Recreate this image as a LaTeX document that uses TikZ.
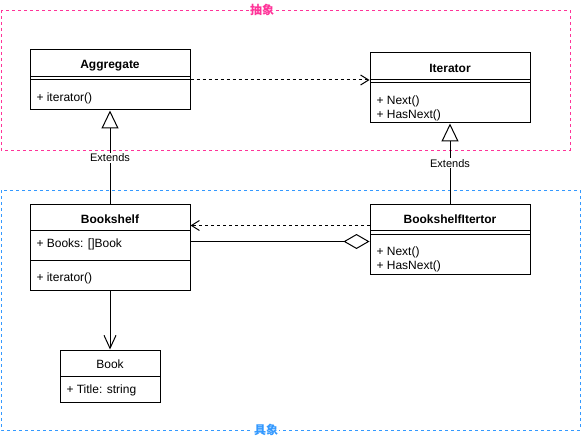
\documentclass[tikz,border=0pt]{standalone}
\usepackage{fontspec}
\setmainfont{Liberation Sans}
\newfontfamily\cjk{Noto Sans CJK SC}
\usetikzlibrary{arrows.meta,calc}
\definecolor{pinkc}{HTML}{FF3399}
\definecolor{bluec}{HTML}{3399FF}
\begin{document}
\begin{tikzpicture}[x=1pt,y=-1pt,line width=1pt,
  classbox/.style={draw=black,fill=white,rectangle,inner sep=0pt},
  ttl/.style={font=\fontsize{12}{14}\selectfont\bfseries,inner sep=0pt,anchor=base},
  ttlplain/.style={font=\fontsize{12}{14}\selectfont,inner sep=0pt,anchor=base},
  attr/.style={font=\fontsize{12}{14}\selectfont,anchor=base west,inner sep=0pt},
  lbl/.style={font=\fontsize{11}{13}\selectfont,fill=white,inner sep=1pt,anchor=base},
  grp/.style={dash pattern=on 3pt off 3pt,line width=0.9pt},
  grplbl/.style={font=\fontsize{12}{14}\selectfont\cjk\bfseries,fill=white,inner sep=1pt},
  inherit/.style={-{Triangle[fill=white,length=18pt,width=17pt]}},
  depend/.style={dash pattern=on 3pt off 3pt,-{Straight Barb[length=8pt,width=10pt]}},
  aggr/.style={-{Diamond[fill=white,length=26pt,width=15pt]}},
  assoc/.style={-{Straight Barb[length=13pt,width=12pt]}}
]
\useasboundingbox (0,0) rectangle (581,441);
% groups
\draw[grp,draw=pinkc] (1,10) rectangle (570,150);
\node[grplbl,text=pinkc] (gA) at (262,10) {抽象};
\draw[grp,draw=bluec] (1,190) rectangle (580,430);
\node[grplbl,text=bluec] (gB) at (266,430) {具象};

% Aggregate
\node[classbox,minimum width=160pt,minimum height=60pt] (agg) at (110,80) {};
\draw (30,76.7) -- (190,76.7);
\draw (30,80) -- (190,80);
\node[ttl] (aggT) at (110,69) {Aggregate};
\node[attr] (aggM) at (36,102) {+ iterator()};

% Iterator
\node[classbox,minimum width=160pt,minimum height=70pt] (it) at (450,88) {};
\draw (370,79.3) -- (530,79.3);
\draw (370,83) -- (530,83);
\node[ttl] (itT) at (450,72.7) {Iterator};
\node[attr] (itM1) at (376,104.3) {+ Next()};
\node[attr] (itM2) at (376,119) {+ HasNext()};

% Bookshelf
\node[classbox,minimum width=160pt,minimum height=86pt] (bs) at (110,247) {};
\draw (30,230.7) -- (190,230.7);
\draw (30,260) -- (190,260);
\node[ttl] (bsT) at (110,223.3) {Bookshelf};
\node[attr] (bsA) at (36,247.7) {+ Books: []Book};
\node[attr] (bsM) at (36,281.7) {+ iterator()};

% BookshelfItertor
\node[classbox,minimum width=160pt,minimum height=70pt] (bsi) at (450,239) {};
\draw (370,230.7) -- (530,230.7);
\draw (370,234) -- (530,234);
\node[ttl] (bsiT) at (450,223.3) {BookshelfItertor};
\node[attr] (bsiM1) at (376,255.3) {+ Next()};
\node[attr] (bsiM2) at (376,269.3) {+ HasNext()};

% Book
\node[classbox,minimum width=100pt,minimum height=52pt] (book) at (110,376) {};
\draw (60,376.7) -- (160,376.7);
\node[ttlplain] (bookT) at (110,368.3) {Book};
\node[attr] (bookA) at (66,393.7) {+ Title: string};

% connectors
\draw[depend] (agg.east) -- (it.west |- agg.east);
\draw[inherit] (bs.north) -- (agg.south);
\node[lbl] (e1) at (110,161.7) {Extends};
\draw[inherit] (bsi.north) -- (it.south);
\node[lbl] (e2) at (450,167.3) {Extends};
\coordinate (d1) at ($(bsi.north west)+(0,22)$);
\draw[depend] (d1) -- (bs.east |- d1);
\coordinate (a1) at ($(bs.north east)+(0,38)$);
\draw[aggr] (a1) -- (bsi.west |- a1);
\draw[assoc] (bs.south) -- (book.north);
\end{tikzpicture}
\end{document}
